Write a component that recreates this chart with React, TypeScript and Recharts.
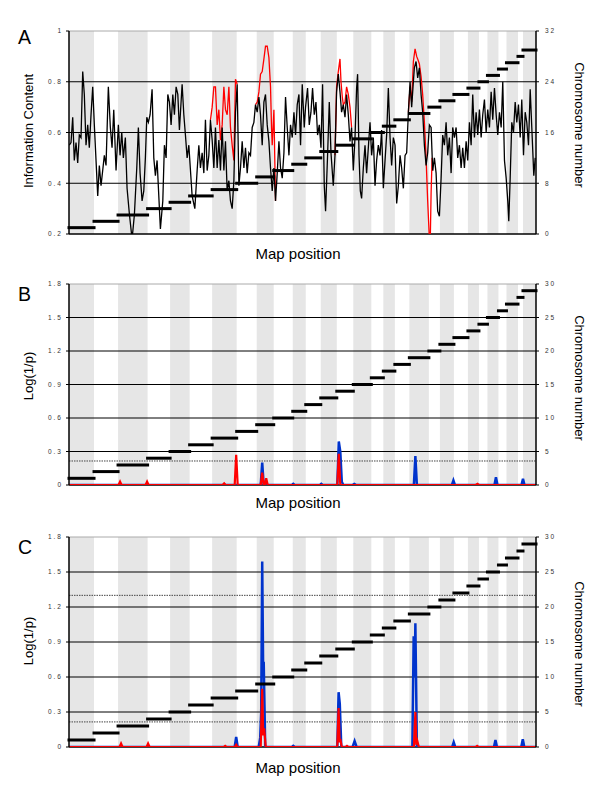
import React from 'react';
import { ComposedChart, Line, XAxis, YAxis, ReferenceArea, ReferenceLine } from 'recharts';

// chromosome boundaries along the map (map position units)
const chromBounds = [0, 25, 49, 78.5, 101, 120.5, 143, 167.5, 187.5, 204.5, 223.5, 236.5, 251.5, 267.5, 284, 302, 314, 325.5, 340, 359.5, 370.5, 384.5, 398.5, 409.5, 418, 429, 437, 448.5, 453.5, 466.5];
const chromNumbers = [1, 2, 3, 4, 5, 6, 7, 8, 9, 10, 11, 12, 13, 14, 15, 16, 17, 18, 19, 20, 21, 22, 23, 24, 25, 26, 27, 28, 29];

const ticksA = [0.2, 0.4, 0.6, 0.8, 1];
const ticksARight = [0, 8, 16, 24, 32];
const ticksP = [0, 0.3, 0.6, 0.9, 1.2, 1.5, 1.8];
const ticksPRight = [0, 5, 10, 15, 20, 25, 30];

// Panel A: information content (black) and second estimate (red, only where it differs)
const infoBlack: [number, number][] = [
  [0.3, 0.55], [2, 0.56], [3.7, 0.66], [5.3, 0.49], [7, 0.56], [8.7, 0.48], [10.3, 0.59], [12, 0.58],
  [13.7, 0.84], [15.3, 0.75], [17, 0.55], [18.7, 0.63], [20.3, 0.54], [22, 0.67], [23.7, 0.78], [25.3, 0.63],
  [28.7, 0.35], [30.3, 0.47], [32, 0.39], [35.3, 0.51], [37, 0.47], [39.3, 0.78], [41.3, 0.62], [43, 0.54],
  [44.7, 0.69], [47, 0.45], [49.3, 0.63], [51, 0.51], [52.7, 0.6], [54.3, 0.5], [56.3, 0.58], [58, 0.38],
  [60.3, 0.28], [63, 0.18], [65.3, 0.275], [67.7, 0.46], [69.3, 0.62], [71, 0.44], [73, 0.33], [74.7, 0.37],
  [76.3, 0.5], [77.7, 0.66], [79.3, 0.64], [81, 0.67], [83, 0.77], [84.7, 0.5], [86.3, 0.43], [88, 0.49],
  [91.3, 0.22], [93.7, 0.33], [95.3, 0.55], [97, 0.5], [98.7, 0.75], [100.3, 0.72], [102, 0.63], [103.7, 0.75],
  [105.3, 0.67], [107, 0.78], [108.7, 0.75], [110.3, 0.61], [113, 0.79], [114.7, 0.67], [116.3, 0.59], [118, 0.5],
  [119.7, 0.55], [123, 0.35], [125.7, 0.3], [128, 0.45], [129.7, 0.55], [131.3, 0.46], [133, 0.52], [134.7, 0.44],
  [136.3, 0.65], [138, 0.45], [139.7, 0.51], [141.3, 0.65], [143, 0.57], [144.7, 0.46], [146.3, 0.62], [148, 0.46],
  [149.7, 0.57], [151.3, 0.45], [153, 0.62], [154.7, 0.45], [156.3, 0.565], [158, 0.37], [159.7, 0.41], [161.3, 0.33],
  [163, 0.3], [164.7, 0.41], [166.3, 0.68], [168, 0.79], [169.7, 0.39], [171.3, 0.46], [173, 0.565], [174.7, 0.46],
  [176.3, 0.54], [178, 0.44], [179.7, 0.52], [181.3, 0.51], [183, 0.62], [184.7, 0.64], [186.3, 0.71], [188, 0.68],
  [189.7, 0.74], [191.3, 0.67], [193, 0.55], [194.7, 0.72], [196.3, 0.75], [198, 0.63], [199.7, 0.565], [201.3, 0.46],
  [203, 0.37], [204.7, 0.46], [206.3, 0.33], [208, 0.44], [209.7, 0.565], [211.3, 0.46], [213, 0.42], [214.7, 0.52],
  [216.3, 0.74], [218, 0.62], [219.7, 0.51], [221.3, 0.63], [223, 0.58], [224.7, 0.68], [226.3, 0.59], [228, 0.71],
  [229.7, 0.75], [231.3, 0.55], [233, 0.79], [235, 0.62], [236.3, 0.7], [238.3, 0.775], [240, 0.63], [241.7, 0.68],
  [243.3, 0.775], [245, 0.67], [246.7, 0.72], [248.3, 0.59], [250, 0.63], [251.7, 0.54], [253.3, 0.79], [255, 0.39],
  [256.3, 0.29], [258.3, 0.51], [260, 0.72], [261.7, 0.52], [264, 0.39], [265.7, 0.51], [267.3, 0.76], [269, 0.83],
  [270.7, 0.76], [272.3, 0.68], [274, 0.71], [275.7, 0.66], [277.3, 0.75], [279, 0.67], [280.7, 0.565], [282.3, 0.62],
  [284, 0.45], [285.7, 0.58], [287.3, 0.775], [288.3, 0.83], [289.7, 0.51], [291, 0.37], [292.3, 0.34], [294, 0.46],
  [295.7, 0.55], [297.3, 0.44], [299, 0.54], [300.7, 0.64], [302.3, 0.51], [304, 0.58], [305.7, 0.39], [307.3, 0.49],
  [309, 0.55], [310.7, 0.51], [312.3, 0.61], [314, 0.38], [315.7, 0.49], [317.3, 0.59], [319, 0.775], [320.7, 0.58],
  [322.3, 0.47], [324, 0.58], [325.7, 0.55], [327.3, 0.32], [329, 0.39], [330.7, 0.51], [332.3, 0.46], [334, 0.38],
  [335.7, 0.51], [337.3, 0.52], [339, 0.68], [340.7, 0.8], [342.3, 0.7], [344, 0.8], [345, 0.855], [346.7, 0.88],
  [348.3, 0.815], [350, 0.855], [351.7, 0.75], [353.3, 0.68], [355, 0.55], [356.7, 0.47], [358.3, 0.52], [360, 0.63],
  [361.7, 0.62], [363.3, 0.45], [365, 0.5], [366.7, 0.44], [368.3, 0.29], [370, 0.27], [371.7, 0.42], [373.3, 0.59],
  [375, 0.55], [376.7, 0.64], [378.3, 0.51], [380, 0.58], [381.7, 0.44], [383.3, 0.62], [385, 0.58], [386.7, 0.62],
  [388.3, 0.5], [390, 0.55], [391.7, 0.46], [393.3, 0.54], [395, 0.46], [396.7, 0.565], [398.3, 0.49], [400, 0.64],
  [401.7, 0.55], [403.3, 0.75], [405, 0.58], [406.7, 0.68], [408.3, 0.59], [410, 0.69], [411.7, 0.58], [413.3, 0.67],
  [415, 0.73], [416.7, 0.6], [418.3, 0.69], [420, 0.62], [421.7, 0.76], [423.3, 0.65], [425, 0.775], [426.7, 0.67],
  [428.3, 0.59], [430, 0.68], [431.7, 0.62], [433.3, 0.8], [435, 0.49], [436.7, 0.42], [438.3, 0.33], [439.3, 0.25],
  [440.7, 0.42], [442.3, 0.64], [444, 0.6], [445.7, 0.72], [447.3, 0.64], [449, 0.71], [450.7, 0.58], [452.3, 0.73],
  [454, 0.51], [455.7, 0.68], [457.3, 0.64], [459, 0.55], [460.7, 0.77], [462.3, 0.62], [464.3, 0.43], [465.7, 0.5],
];

const infoRed1: [number, number][] = [
  [141.3, 0.65], [143, 0.7], [144.7, 0.78], [146.3, 0.78], [148, 0.63], [149.7, 0.69], [151.3, 0.57], [153, 0.63],
  [154.7, 0.78], [156.3, 0.69], [158, 0.67], [159.7, 0.78], [161.3, 0.62], [163, 0.55], [164.7, 0.49], [166.3, 0.81], [168, 0.79],
];
const infoRed2: [number, number][] = [
  [186.3, 0.71], [188, 0.72], [189.7, 0.76], [191.3, 0.83], [193, 0.84], [194.7, 0.89], [196.3, 0.94], [198, 0.94],
  [199.7, 0.895], [201.3, 0.78], [202.3, 0.62], [203, 0.55], [204.7, 0.69], [206.3, 0.33],
];
const infoRed3: [number, number][] = [
  [265.7, 0.51], [267.3, 0.78], [269, 0.84], [270.7, 0.89], [271.7, 0.8], [273, 0.74], [274, 0.71], [275.7, 0.72],
  [277.3, 0.78], [279, 0.75], [280.7, 0.7], [282.3, 0.62],
];
const infoRed4: [number, number][] = [
  [339, 0.68], [340.7, 0.78], [342.3, 0.72], [344, 0.88], [345.7, 0.93], [347.3, 0.9], [348.3, 0.89], [350, 0.87],
  [351.7, 0.82], [353.3, 0.75], [355, 0.64], [356.7, 0.5], [358.3, 0.33], [360, 0.18], [361, 0.2], [361.7, 0.36],
  [362.7, 0.5], [363.3, 0.45],
];

// Panel B: Log(1/p)
const bRed: [number, number][] = [
  [0, 0], [49.5, 0], [51, 0.03], [52.5, 0], [76.5, 0], [78, 0.03], [79.5, 0], [153.5, 0], [155, 0.015], [156.5, 0],
  [165.5, 0], [167, 0.27], [168.5, 0], [191.5, 0], [193, 0.11], [194.5, 0], [195.5, 0], [197, 0.06], [198.5, 0],
  [268, 0], [269.5, 0.28], [271, 0], [406.5, 0], [408, 0.01], [409.5, 0], [466.5, 0],
];
const bBlue: [number, number][] = [
  [0, 0], [191.5, 0], [193, 0.2], [194.5, 0], [222.5, 0], [224, 0.01], [225.5, 0], [250.5, 0], [252, 0.01], [253.5, 0],
  [268, 0], [269.5, 0.39], [271, 0.3], [272.5, 0.03], [274, 0], [283, 0], [285, 0.01], [287, 0], [344.5, 0], [346, 0.26],
  [347.5, 0], [382.5, 0], [384, 0.04], [385.5, 0], [425, 0], [426.5, 0.07], [428, 0], [452, 0], [453.5, 0.055], [455, 0],
  [466.5, 0],
];

// Panel C: Log(1/p)
const cRed: [number, number][] = [
  [0, 0], [50.5, 0], [52, 0.03], [53.5, 0], [77.5, 0], [79, 0.03], [80.5, 0], [154.5, 0], [156, 0.01], [157.5, 0],
  [165.5, 0], [167, 0.02], [168.5, 0], [191.5, 0], [193, 0.5], [194, 0.1], [195, 0.16], [196.5, 0], [268, 0],
  [269.3, 0.335], [270.3, 0.04], [271, 0.07], [272.5, 0], [276.2, 0], [277.7, 0.01], [279.2, 0], [344.5, 0], [346, 0.3],
  [347, 0.02], [348, 0.05], [349.5, 0], [406.2, 0], [407.7, 0.01], [409.2, 0], [466.5, 0],
];
const cBlue: [number, number][] = [
  [0, 0], [165.5, 0], [167, 0.086], [168.5, 0], [189.5, 0], [191, 0.08], [192, 0.3], [193, 1.59], [194, 0.6],
  [194.5, 0.73], [196, 0], [222.5, 0], [224, 0.01], [225.5, 0], [268, 0], [269.3, 0.47], [270.5, 0.37], [272, 0],
  [283.3, 0], [285.3, 0.05], [287.3, 0], [343, 0], [344.3, 0.95], [345.3, 0.6], [346, 1.06], [347.5, 0], [382.8, 0],
  [384.3, 0.04], [385.8, 0], [424.5, 0], [426, 0.06], [427.5, 0], [451.8, 0], [453.3, 0.066], [454.8, 0], [466.5, 0],
];

const thresholdsB = [0.215];
const thresholdsC = [0.215, 1.3];

const toRows = (arr: [number, number][]) => arr.map(([pos, v]) => ({ pos, v }));
const joinSegments = (segs: [number, number][][]) => {
  const out: { pos: number; v: number | null }[] = [];
  segs.forEach((s, i) => {
    if (i > 0) out.push({ pos: (segs[i - 1][segs[i - 1].length - 1][0] + s[0][0]) / 2, v: null });
    s.forEach(([pos, v]) => out.push({ pos, v }));
  });
  return out;
};

const FONT = '"Liberation Sans", Arial, sans-serif';
const tickStyle = { fontSize: 6.5, fill: '#333', fontFamily: FONT, letterSpacing: 2 };
const xDomain: [number, number] = [0, 466.5];

const bands = () =>
  chromNumbers
    .filter((n) => n % 2 === 1)
    .map((n) => (
      <ReferenceArea
        key={'band' + n}
        yAxisId="left"
        x1={chromBounds[n - 1]}
        x2={chromBounds[n]}
        fill="#e6e6e6"
        fillOpacity={1}
        stroke="none"
      />
    ));

const chromSegs = () =>
  chromNumbers.map((n) => (
    <ReferenceLine
      key={'seg' + n}
      yAxisId="right"
      segment={[
        { x: chromBounds[n - 1], y: n },
        { x: chromBounds[n], y: n },
      ]}
      stroke="#000"
      strokeWidth={3}
      strokeLinecap="square"
    />
  ));

const gridLines = (ticks: number[]) =>
  ticks.map((t, i) => (
    <ReferenceLine
      key={'g' + t}
      yAxisId="left"
      y={t}
      stroke={i === ticks.length - 1 ? '#aaa' : '#000'}
      strokeWidth={i === 0 ? 1.5 : 1}
    />
  ));

type PanelProps = {
  top: number;
  height: number;
  mTop: number;
  mBottom: number;
  leftDomain: [number, number];
  leftTicks: number[];
  rightDomain: [number, number];
  rightTicks: number[];
  children: React.ReactNode;
};

function Panel({ top, height, mTop, mBottom, leftDomain, leftTicks, rightDomain, rightTicks, children }: PanelProps) {
  return (
    <div style={{ position: 'absolute', left: 0, top, width: 600, height }}>
      <ComposedChart width={600} height={height} margin={{ top: mTop, right: 0, bottom: mBottom, left: 0 }}>
        <XAxis type="number" dataKey="pos" domain={xDomain} hide allowDataOverflow />
        <YAxis
          yAxisId="left"
          orientation="left"
          width={69}
          type="number"
          domain={leftDomain}
          ticks={leftTicks}
          interval={0}
          allowDataOverflow
          tick={tickStyle}
          tickSize={3}
          tickMargin={3}
          axisLine={{ stroke: '#000', strokeWidth: 1.5 }}
          tickLine={{ stroke: '#000' }}
        />
        <YAxis
          yAxisId="right"
          orientation="right"
          width={64}
          type="number"
          domain={rightDomain}
          ticks={rightTicks}
          interval={0}
          allowDataOverflow
          tick={tickStyle}
          tickSize={3}
          tickMargin={6}
          axisLine={{ stroke: '#000', strokeWidth: 1.5 }}
          tickLine={{ stroke: '#000' }}
        />
        {bands()}
        {gridLines(leftTicks)}
        {children}
        {chromSegs()}
      </ComposedChart>
    </div>
  );
}

const textBase: React.CSSProperties = { position: 'absolute', fontFamily: FONT, color: '#000', whiteSpace: 'nowrap', lineHeight: 1 };

function RotLabel({ x, y, text, angle }: { x: number; y: number; text: string; angle: number }) {
  return (
    <div style={{ ...textBase, left: x, top: y, fontSize: 13, transform: `translate(-50%, -50%) rotate(${angle}deg)` }}>
      {text}
    </div>
  );
}

function MapLabel({ top }: { top: number }) {
  return <div style={{ ...textBase, left: 298, top, fontSize: 15, transform: 'translateX(-50%)' }}>Map position</div>;
}

function Letter({ top, text }: { top: number; text: string }) {
  return <div style={{ ...textBase, left: 18, top, fontSize: 19.5 }}>{text}</div>;
}

export default function App() {
  const blackRows = toRows(infoBlack);
  const redRows = joinSegments([infoRed1, infoRed2, infoRed3, infoRed4]);
  return (
    <div style={{ position: 'absolute', left: 0, top: 0, width: 600, height: 800, background: '#fff' }}>
      <Panel top={0} height={260} mTop={31} mBottom={26} leftDomain={[0.2, 1]} leftTicks={ticksA} rightDomain={[0, 32]} rightTicks={ticksARight}>
        <Line yAxisId="left" data={redRows} dataKey="v" stroke="#ff0000" strokeWidth={1.3} dot={false} activeDot={false} isAnimationActive={false} />
        <Line yAxisId="left" data={blackRows} dataKey="v" stroke="#000" strokeWidth={1.3} dot={false} activeDot={false} isAnimationActive={false} />
      </Panel>
      <Panel top={270} height={240} mTop={14} mBottom={25} leftDomain={[0, 1.8]} leftTicks={ticksP} rightDomain={[0, 30]} rightTicks={ticksPRight}>
        {thresholdsB.map((t) => (
          <ReferenceLine key={'tb' + t} yAxisId="left" y={t} stroke="#444" strokeDasharray="1.5 1" />
        ))}
        <Line yAxisId="left" data={toRows(bBlue)} dataKey="v" stroke="#0033cc" strokeWidth={2.5} dot={false} activeDot={false} isAnimationActive={false} />
        <Line yAxisId="left" data={toRows(bRed)} dataKey="v" stroke="#ff0000" strokeWidth={2.2} dot={false} activeDot={false} isAnimationActive={false} />
      </Panel>
      <Panel top={520} height={280} mTop={17} mBottom={53} leftDomain={[0, 1.8]} leftTicks={ticksP} rightDomain={[0, 30]} rightTicks={ticksPRight}>
        {thresholdsC.map((t) => (
          <ReferenceLine key={'tc' + t} yAxisId="left" y={t} stroke="#444" strokeDasharray="1.5 1" />
        ))}
        <Line yAxisId="left" data={toRows(cBlue)} dataKey="v" stroke="#0033cc" strokeWidth={2.5} dot={false} activeDot={false} isAnimationActive={false} />
        <Line yAxisId="left" data={toRows(cRed)} dataKey="v" stroke="#ff0000" strokeWidth={2.2} dot={false} activeDot={false} isAnimationActive={false} />
      </Panel>

      <Letter top={28} text="A" />
      <Letter top={284.5} text="B" />
      <Letter top={537.5} text="C" />

      <RotLabel x={28} y={130.5} text="Information Content" angle={-90} />
      <RotLabel x={579} y={125} text="Chromosome number" angle={90} />
      <RotLabel x={28} y={376} text="Log(1/p)" angle={-90} />
      <RotLabel x={578.5} y={377.5} text="Chromosome number" angle={90} />
      <RotLabel x={28} y={641} text="Log(1/p)" angle={-90} />
      <RotLabel x={578.5} y={644} text="Chromosome number" angle={90} />

      <MapLabel top={245.5} />
      <MapLabel top={495} />
      <MapLabel top={759.5} />
    </div>
  );
}
